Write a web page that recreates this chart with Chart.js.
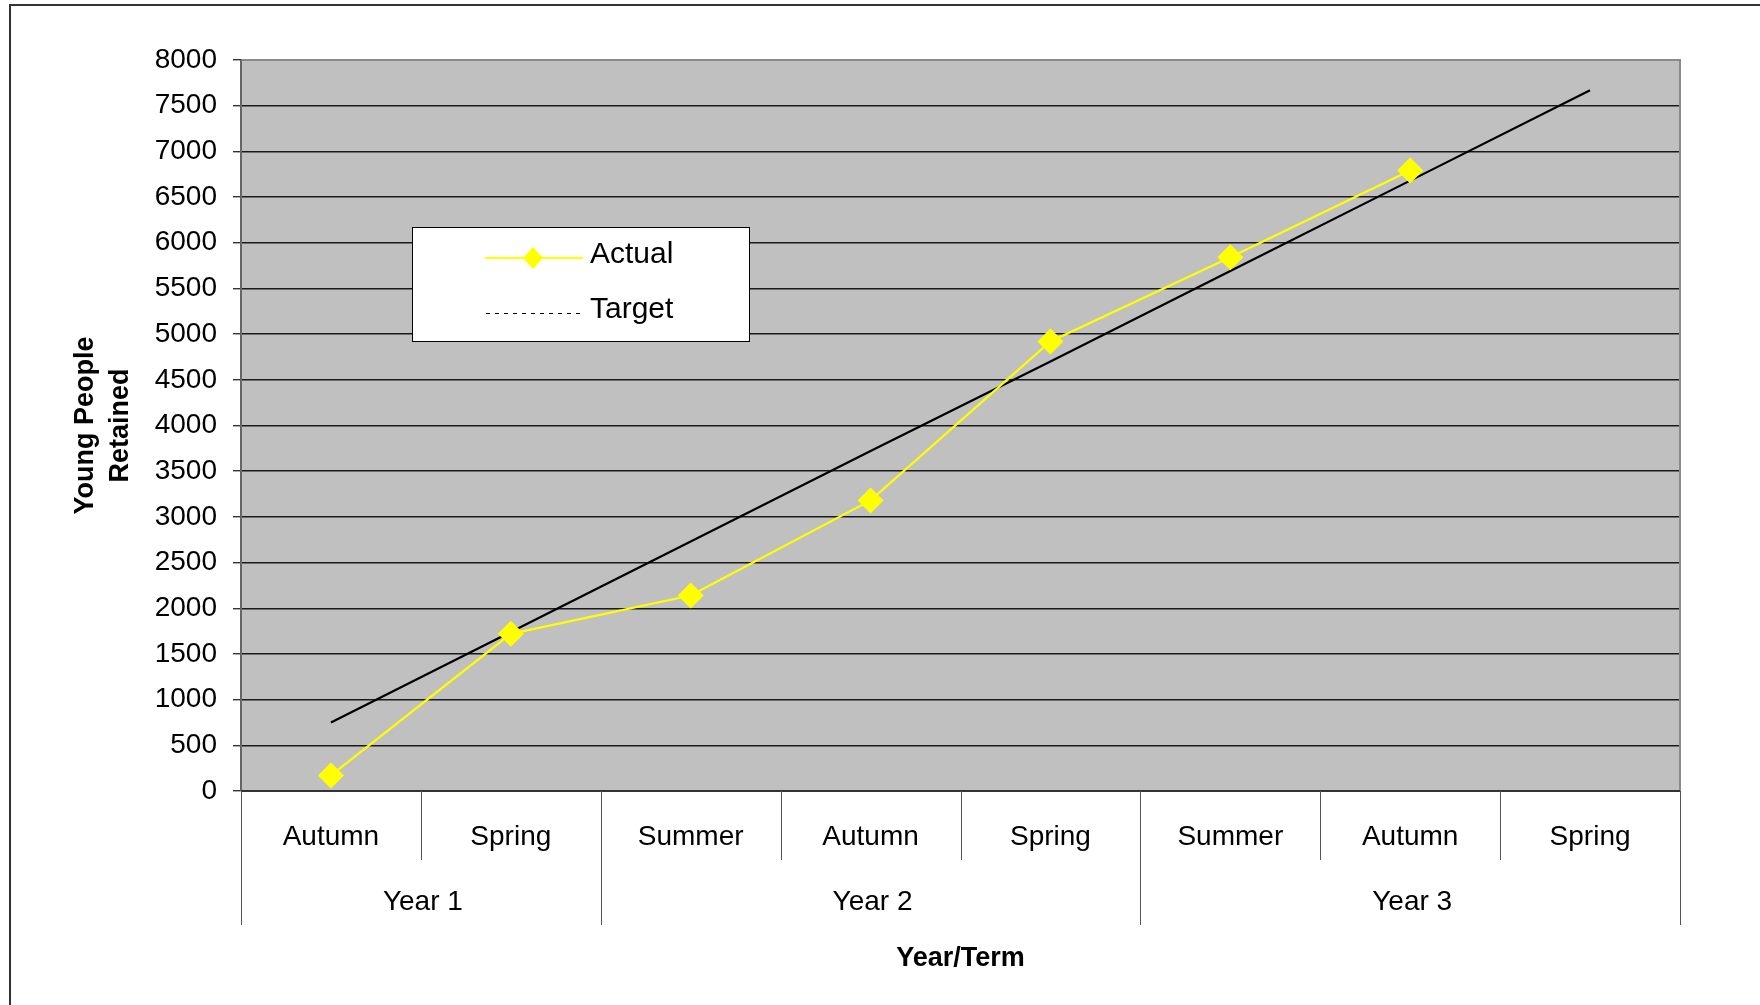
<!DOCTYPE html>
<html>
<head>
<meta charset="utf-8">
<script src="https://cdn.jsdelivr.net/npm/chart.js@4.4.1/dist/chart.umd.min.js"></script>
<style>
  html, body { margin: 0; padding: 0; background: #fff; }
  #wrap { width: 1760px; height: 1005px; position: relative; }
</style>
</head>
<body>
<div id="wrap"><canvas id="grafico" width="1760" height="1005"></canvas></div>
<script>
// terms along the x axis
const terms = ['Autumn', 'Spring', 'Summer', 'Autumn', 'Spring', 'Summer', 'Autumn', 'Spring']
// year groups: label, first term index, number of terms
const years = ['Year 1', 'Year 2', 'Year 3']
const yearStart = [0, 2, 5]
const yearSpan = [2, 3, 3]

const actual = [170, 1720, 2140, 3180, 4920, 5840, 6790, null]
const target = [750, 1740, 2730, 3720, 4700, 5690, 6680, 7670]

const yTicks = { min: 0, max: 8000, step: 500 }

const FONT = "'Liberation Sans', Arial, sans-serif"

// background, plot fill, outer border
const fondo = {
  id: 'fondo',
  beforeDraw(chart) {
    const ctx = chart.ctx
    const a = chart.chartArea
    ctx.save()
    ctx.fillStyle = '#fff'
    ctx.fillRect(0, 0, chart.width, chart.height)
    ctx.strokeStyle = '#333'
    ctx.lineWidth = 2
    ctx.beginPath()
    ctx.moveTo(10, chart.height)
    ctx.lineTo(10, 5)
    ctx.lineTo(chart.width, 5)
    ctx.stroke()
    ctx.fillStyle = '#c0c0c0'
    ctx.fillRect(a.left, a.top, a.right - a.left, a.bottom - a.top)
    ctx.restore()
  },
  beforeDatasetsDraw(chart) {
    const ctx = chart.ctx
    const a = chart.chartArea
    ctx.save()
    ctx.strokeStyle = '#8a8a8a'
    ctx.lineWidth = 2
    ctx.beginPath()
    ctx.moveTo(a.left, a.top)
    ctx.lineTo(a.right, a.top)
    ctx.lineTo(a.right, a.bottom)
    ctx.stroke()
    ctx.strokeStyle = '#666'
    ctx.beginPath()
    ctx.moveTo(a.left, a.top)
    ctx.lineTo(a.left, a.bottom)
    ctx.stroke()
    ctx.strokeStyle = '#333'
    ctx.beginPath()
    ctx.moveTo(a.left, a.bottom)
    ctx.lineTo(a.right, a.bottom)
    ctx.stroke()
    ctx.restore()
  }
}

// separators under the axis and the year row
const grupos = {
  id: 'grupos',
  afterDraw(chart) {
    const ctx = chart.ctx
    const x = chart.scales.x
    const top = chart.chartArea.bottom
    const half = (x.getPixelForValue(1) - x.getPixelForValue(0)) / 2
    const edge = i => x.getPixelForValue(i) - half
    const yearEdges = [0]
    yearStart.forEach((s, i) => yearEdges.push(s + yearSpan[i]))
    ctx.save()
    ctx.strokeStyle = '#555'
    ctx.lineWidth = 1
    for (let i = 0; i <= terms.length; i++) {
      const px = Math.round(edge(i)) + 0.5
      const largo = yearEdges.includes(i) ? 134 : 69
      ctx.beginPath()
      ctx.moveTo(px, top)
      ctx.lineTo(px, top + largo)
      ctx.stroke()
    }
    ctx.fillStyle = '#000'
    ctx.font = '28px ' + FONT
    ctx.textAlign = 'center'
    ctx.textBaseline = 'middle'
    years.forEach((y, i) => {
      const cx = (edge(yearStart[i]) + edge(yearStart[i] + yearSpan[i])) / 2
      ctx.fillText(y, cx + 2, top + 111)
    })
    ctx.restore()
  }
}

// legend box inside the plot
const leyenda = {
  id: 'leyenda',
  afterDraw(chart) {
    const ctx = chart.ctx
    const ds = chart.data.datasets
    ctx.save()
    ctx.fillStyle = '#fff'
    ctx.fillRect(412, 227, 337, 114)
    ctx.strokeStyle = '#000'
    ctx.lineWidth = 1
    ctx.strokeRect(412.5, 227.5, 337, 114)

    ctx.strokeStyle = ds[0].borderColor
    ctx.lineWidth = 2
    ctx.beginPath()
    ctx.moveTo(485, 258)
    ctx.lineTo(583, 258)
    ctx.stroke()
    ctx.fillStyle = ds[0].pointBackgroundColor
    ctx.beginPath()
    ctx.moveTo(533, 247)
    ctx.lineTo(543, 258)
    ctx.lineTo(533, 269)
    ctx.lineTo(523, 258)
    ctx.closePath()
    ctx.fill()

    ctx.strokeStyle = '#000'
    ctx.lineWidth = 1
    ctx.setLineDash([4, 5])
    ctx.beginPath()
    ctx.moveTo(486, 313.5)
    ctx.lineTo(583, 313.5)
    ctx.stroke()
    ctx.setLineDash([])

    ctx.fillStyle = '#000'
    ctx.font = '30px ' + FONT
    ctx.textAlign = 'left'
    ctx.textBaseline = 'middle'
    ctx.fillText(ds[0].label, 590, 255)
    ctx.fillText(ds[1].label, 590, 310)
    ctx.restore()
  }
}

const ctxg = document.getElementById('grafico').getContext('2d')

const myChart = new Chart(ctxg, {
  type: 'line',
  data: {
    labels: terms,
    datasets: [{
      label: 'Actual',
      data: actual,
      borderColor: '#ffff00',
      backgroundColor: '#ffff00',
      pointBackgroundColor: '#ffff00',
      pointBorderColor: '#ffff00',
      borderWidth: 2.2,
      pointStyle: 'rectRot',
      pointRadius: 13,
      pointBorderWidth: 0,
      tension: 0,
      spanGaps: false
    }, {
      label: 'Target',
      data: target,
      borderColor: '#000',
      backgroundColor: '#000',
      borderWidth: 2.2,
      pointRadius: 0,
      tension: 0
    }]
  },
  options: {
    responsive: false,
    animation: false,
    devicePixelRatio: 1,
    layout: { padding: { top: 60, right: 80, left: 0, bottom: 0 } },
    plugins: {
      legend: { display: false },
      tooltip: { enabled: false }
    },
    scales: {
      x: {
        offset: true,
        afterFit: s => { s.height = 214 },
        grid: { display: false, drawTicks: false },
        border: { display: false },
        ticks: {
          color: '#000',
          font: { family: FONT, size: 28 },
          padding: 29,
          maxRotation: 0,
          autoSkip: false
        },
        title: {
          display: true,
          text: 'Year/Term',
          color: '#000',
          font: { family: FONT, size: 27, weight: 'bold' },
          padding: { top: 0, bottom: 30 }
        }
      },
      y: {
        min: yTicks.min,
        max: yTicks.max,
        afterFit: s => { s.width = 241 },
        grid: {
          color: '#1a1a1a',
          lineWidth: 1.4,
          tickLength: 8,
          tickColor: '#333'
        },
        border: { display: false },
        ticks: {
          stepSize: yTicks.step,
          color: '#000',
          font: { family: FONT, size: 28 },
          padding: 16,
          callback: v => String(v)
        },
        title: {
          display: true,
          text: ['Young People', 'Retained'],
          color: '#000',
          font: { family: FONT, size: 27, weight: 'bold', lineHeight: 1.3 },
          padding: { top: 68, bottom: 0 }
        }
      }
    }
  },
  plugins: [fondo, grupos, leyenda]
})
</script>
</body>
</html>
